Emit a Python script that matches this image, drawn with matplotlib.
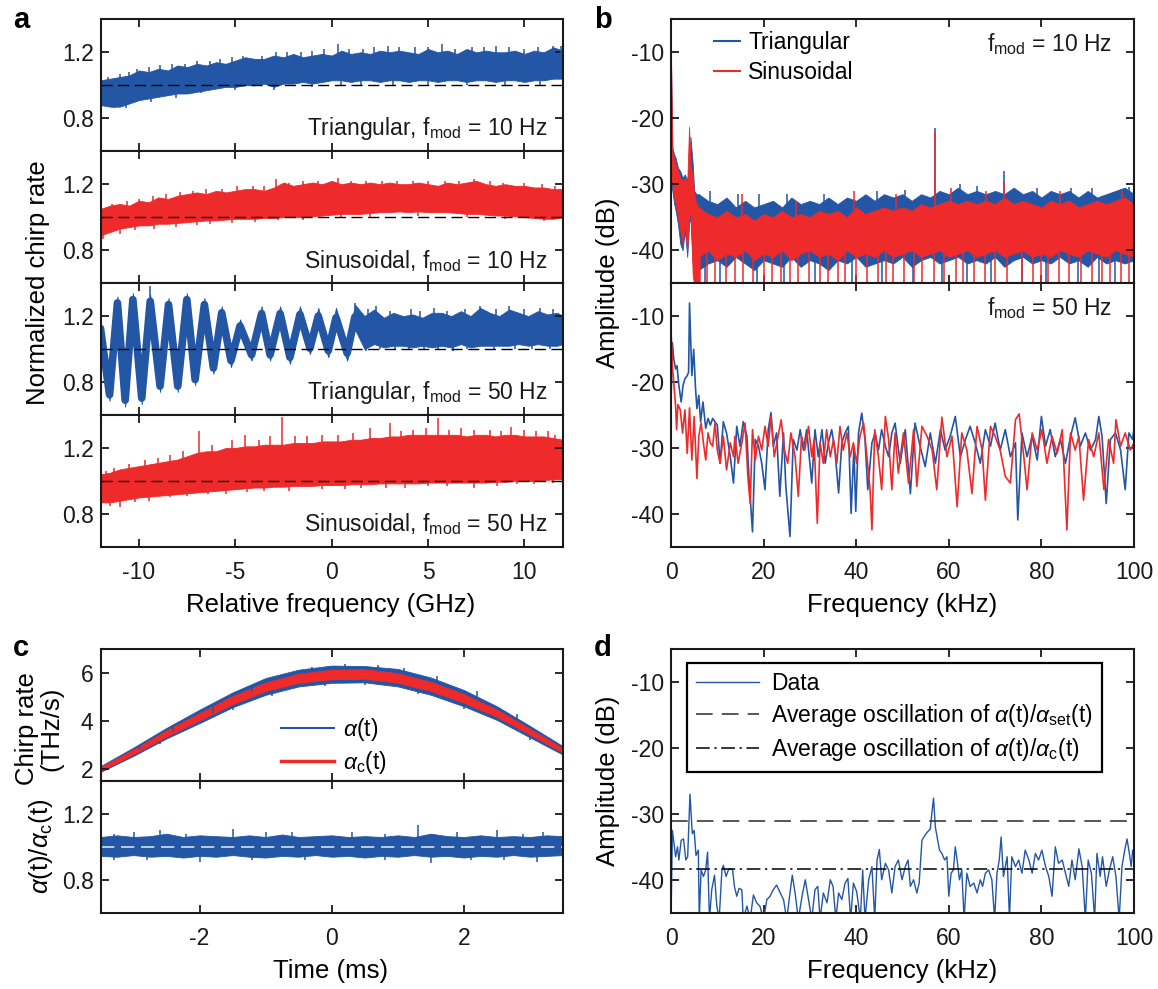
import numpy as np
import matplotlib
matplotlib.use('Agg')
import matplotlib.pyplot as plt
from matplotlib.lines import Line2D

plt.rcParams['font.family'] = ['Liberation Sans', 'DejaVu Sans']
plt.rcParams['mathtext.fontset'] = 'custom'
plt.rcParams['mathtext.rm'] = 'Liberation Sans'
plt.rcParams['mathtext.it'] = 'Liberation Sans:italic'
plt.rcParams['axes.unicode_minus'] = False

BLUE = '#2356a5'
RED = '#ee2a2a'

# ---------------- panel a : normalized chirp rate bands ----------------
a_x = np.arange(-12, 12.01, 0.5)
a1_hi = [1.03, 1.04, 1.05, 1.06, 1.09, 1.08, 1.10, 1.09, 1.12, 1.11,
         1.13, 1.12, 1.14, 1.13, 1.15, 1.17, 1.16, 1.16, 1.18, 1.17,
         1.19, 1.17, 1.18, 1.19, 1.18, 1.21, 1.19, 1.20, 1.19, 1.21,
         1.20, 1.21, 1.20, 1.19, 1.22, 1.20, 1.21, 1.19, 1.22, 1.20,
         1.21, 1.20, 1.20, 1.21, 1.19, 1.21, 1.20, 1.23, 1.21]
a1_lo = [0.88, 0.87, 0.87, 0.89, 0.91, 0.92, 0.93, 0.94, 0.95, 0.95,
         0.96, 0.97, 0.98, 0.99, 0.99, 1.00, 1.00, 1.01, 0.99, 1.01,
         1.01, 1.02, 1.01, 1.02, 1.03, 1.03, 1.02, 1.03, 1.03, 1.02,
         1.03, 1.03, 1.02, 1.03, 1.03, 1.02, 1.03, 1.03, 1.02, 1.03,
         1.03, 1.02, 1.03, 1.03, 1.02, 1.03, 1.03, 1.04, 1.04]
a1_up_x = [-11.6, -11.0, -10.5, -10.1, -9.5, -8.9, -8.3, -7.6, -7.0, -6.3, -5.8, -5.2, -4.6, -3.6,
           -2.9, -2.3, -1.6, -1.0, -0.4, 0.3, 0.9, 1.6, 2.2, 2.9, 3.5, 4.3, 5.0, 5.7, 6.4, 7.3,
           7.9, 8.5, 9.2, 10.0, 10.7, 11.5, 11.9]
a1_up_y = [1.05, 1.07, 1.08, 1.10, 1.11, 1.12, 1.13, 1.13, 1.15, 1.15, 1.16, 1.17, 1.18, 1.18,
           1.20, 1.20, 1.20, 1.21, 1.22, 1.25, 1.22, 1.22, 1.23, 1.24, 1.23, 1.23, 1.23, 1.25, 1.22, 1.23,
           1.23, 1.24, 1.23, 1.22, 1.23, 1.24, 1.24]
a1_dn_x = [-11.3, -10.7, -9.4, -8.1, -6.8, -5.0, -3.0, -1.0, 0.5, 1.5, 3.2, 5.0, 7.0, 9.0, 10.8]
a1_dn_y = [0.86, 0.86, 0.90, 0.92, 0.95, 0.97, 0.97, 0.99, 1.0, 1.00, 1.0, 1.00, 1.0, 1.00, 1.0]

a2_hi = [1.05, 1.07, 1.08, 1.07, 1.10, 1.09, 1.12, 1.11, 1.13, 1.14,
         1.15, 1.14, 1.16, 1.15, 1.16, 1.17, 1.17, 1.16, 1.18, 1.21,
         1.19, 1.20, 1.21, 1.20, 1.22, 1.20, 1.21, 1.20, 1.21, 1.20,
         1.21, 1.20, 1.20, 1.21, 1.20, 1.19, 1.21, 1.20, 1.21, 1.22,
         1.20, 1.19, 1.20, 1.19, 1.19, 1.18, 1.18, 1.17, 1.17]
a2_lo = [0.89, 0.91, 0.93, 0.94, 0.95, 0.95, 0.96, 0.96, 0.965, 0.97,
         0.975, 0.98, 0.98, 0.985, 0.99, 0.99, 0.99, 0.995, 0.995, 1.0,
         1.0, 1.0, 1.005, 1.01, 1.015, 1.02, 1.02, 1.02, 1.025, 1.03,
         1.03, 1.035, 1.03, 1.035, 1.03, 1.03, 1.03, 1.025, 1.02, 1.02,
         1.015, 1.01, 1.01, 1.005, 1.0, 0.995, 0.99, 0.99, 1.0]
a2_up_x = [-11.4, -10.6, -10.0, -9.3, -8.6, -7.9, -7.2, -6.5, -5.7, -4.9, -4.1, -3.5, -2.9, -2.2,
           -1.5, -0.7, 0.3, 1.0, 1.8, 2.6, 3.4, 4.2, 5.0, 5.9, 6.6, 7.4, 8.2, 8.9, 10.0, 10.9, 11.6]
a2_up_y = [1.08, 1.10, 1.11, 1.13, 1.14, 1.15, 1.16, 1.17, 1.17, 1.19, 1.19, 1.19, 1.23, 1.21,
           1.22, 1.22, 1.24, 1.22, 1.22, 1.22, 1.22, 1.22, 1.22, 1.22, 1.22, 1.23, 1.22, 1.21, 1.21, 1.2, 1.19]
a2_dn_x = [-11.85, -11.0, -10.2, -9.2, -8.1, -7.0, -6.3, -5.2, -4.0, -2.8, -1.5, 0.5, 2.0, 4.5, 7.0, 9.0, 11.0]
a2_dn_y = [0.87, 0.9, 0.92, 0.93, 0.94, 0.955, 0.96, 0.965, 0.97, 0.98, 0.985, 0.995, 1.0, 1.01, 1.0, 0.99, 0.975]

# triangular 50 Hz: oscillating band, read at its crests and troughs
a3_x = [-12, -11.53, -11.12, -10.72, -10.32, -9.86, -9.42, -8.91, -8.47, -7.99,
        -7.52, -7.09, -6.61, -6.14, -5.71, -5.23, -4.76, -4.16, -3.64, -3.2,
        -2.68, -2.17, -1.65, -1.13, -0.7, -0.18, 0.22, 0.8, 1.2, 1.7,
        2.2, 2.7, 3.2, 3.7, 4.2, 4.7, 5.2, 5.7, 6.2, 6.7,
        7.2, 7.7, 8.2, 8.7, 9.2, 9.7, 10.2, 10.7, 11.2, 11.7, 12]
a3_hi = [1.17, 0.76, 1.32, 0.73, 1.34, 0.74, 1.33, 0.81, 1.31, 0.81,
         1.34, 0.85, 1.31, 0.92, 1.26, 0.97, 1.18, 1.0, 1.26, 1.0,
         1.26, 0.99, 1.26, 1.04, 1.25, 1.03, 1.25, 1.02, 1.27, 1.2,
         1.24, 1.19, 1.22, 1.2, 1.21, 1.19, 1.22, 1.22, 1.2, 1.23,
         1.2, 1.25, 1.22, 1.2, 1.24, 1.22, 1.2, 1.23, 1.21, 1.22, 1.2]
a3_lo = [1.08, 0.685, 1.24, 0.65, 1.26, 0.665, 1.25, 0.74, 1.23, 0.74,
         1.26, 0.78, 1.23, 0.85, 1.18, 0.89, 1.10, 0.93, 1.17, 0.93,
         1.17, 0.91, 1.16, 0.97, 1.15, 0.95, 1.13, 0.93, 1.12, 1.0,
         1.03, 1.01, 1.02, 1.02, 1.01, 1.02, 1.01, 1.02, 1.01, 1.03,
         1.01, 1.02, 1.02, 1.02, 1.02, 1.03, 1.02, 1.03, 1.02, 1.02, 1.03]
a3_up_x = [-9.42, 1.2, 1.9, 2.3, 3.0, 4.1, 4.6, 5.3, 6.0, 6.9, 7.7, 8.5, 9.2, 10.0, 10.8, 11.5]
a3_up_y = [1.38, 1.28, 1.24, 1.26, 1.23, 1.24, 1.23, 1.25, 1.23, 1.24, 1.26, 1.24, 1.26, 1.24, 1.25, 1.24]
a3_dn_x = [1.8, 2.5, 3.3, 4.0, 4.8, 5.5, 6.3, 7.0, 8.4, 9.5, 10.4, 11.3]
a3_dn_y = [0.99, 1.0, 1.0, 1.0, 1.0, 1.0, 0.99, 1.0, 1.0, 1.0, 1.0, 1.0]

a4_hi = [1.04, 1.05, 1.07, 1.08, 1.09, 1.10, 1.11, 1.12, 1.13, 1.15,
         1.17, 1.18, 1.18, 1.20, 1.20, 1.21, 1.21, 1.22, 1.22, 1.22,
         1.23, 1.23, 1.23, 1.24, 1.24, 1.24, 1.25, 1.25, 1.26, 1.26,
         1.27, 1.27, 1.28, 1.28, 1.28, 1.28, 1.28, 1.28, 1.27, 1.28,
         1.28, 1.27, 1.28, 1.28, 1.27, 1.27, 1.27, 1.26, 1.25]
a4_lo = [0.87, 0.87, 0.88, 0.89, 0.90, 0.905, 0.91, 0.915, 0.92, 0.925,
         0.93, 0.935, 0.94, 0.945, 0.95, 0.955, 0.96, 0.96, 0.965, 0.965,
         0.97, 0.97, 0.97, 0.975, 0.975, 0.975, 0.98, 0.98, 0.98, 0.985,
         0.985, 0.985, 0.985, 0.985, 0.99, 0.99, 0.99, 0.99, 0.99, 0.99,
         0.99, 0.995, 0.995, 1.0, 1.0, 1.0, 1.005, 1.01, 1.01]
a4_up_x = [-11.7, -11.3, -10.5, -9.7, -9.0, -8.4, -7.7, -6.9, -6.2, -5.2, -4.5, -3.8, -3.2, -2.6,
           -1.9, -1.3, -0.5, 0.3, 1.1, 2.0, 3.0, 3.6, 4.2, 4.9, 5.5, 6.1, 6.7, 7.4, 8.2, 8.8,
           9.3, 10.0, 10.6, 11.2, 11.6]
a4_up_y = [1.06, 1.08, 1.10, 1.13, 1.14, 1.16, 1.18, 1.30, 1.22, 1.25, 1.28, 1.25, 1.27, 1.39,
           1.27, 1.27, 1.28, 1.28, 1.29, 1.32, 1.35, 1.30, 1.31, 1.32, 1.38, 1.31, 1.32, 1.31, 1.31, 1.30,
           1.33, 1.31, 1.30, 1.30, 1.28]
a4_dn_x = [-11.5, -11.0, -10.2, -9.5, -8.4, -7.5, -6.4, -5.5, -4.4, -3.5, -2.2, -0.5, 0.7, 1.5,
           2.8, 3.8, 5.0, 6.0, 7.4, 8.6, 9.6, 10.5, 11.5]
a4_dn_y = [0.85, 0.84, 0.87, 0.88, 0.9, 0.91, 0.92, 0.92, 0.93, 0.94, 0.94, 0.95, 0.95, 0.96,
           0.96, 0.96, 0.97, 0.97, 0.96, 0.97, 0.98, 0.98, 0.99]

a_colors = [BLUE, RED, BLUE, RED]
a_texts = ['Triangular, f$_{\\rm mod}$ = 10 Hz', 'Sinusoidal, f$_{\\rm mod}$ = 10 Hz',
           'Triangular, f$_{\\rm mod}$ = 50 Hz', 'Sinusoidal, f$_{\\rm mod}$ = 50 Hz']

# ---------------- panel b : spectra ----------------
# f_mod = 10 Hz, low-frequency part
b1_low_x = [0, 0.3, 0.7, 1.0, 1.5, 2.0, 2.5, 3.0, 3.5, 3.9, 4.2, 4.7, 5.0, 5.5, 6.0]
b1_tri_low_hi = [-11.5, -24.5, -25.5, -26, -27.5, -28, -29, -28.5, -29.5, -27, -22.8, -27, -31, -31.5, -31.5]
b1_tri_low_lo = [-30, -31, -33, -34, -36, -39, -40, -37, -41, -36, -35, -42, -44, -43, -44]
b1_sin_low_hi = [-10.5, -25, -26, -27, -28, -29, -29.5, -29, -30, -21.3, -27, -29, -31.5, -33, -33.5]
b1_sin_low_lo = [-29, -30, -32, -33, -35, -37, -39, -36, -40, -35, -34, -44, -45, -46, -46]
# f_mod = 10 Hz, noise floor band (6..100 kHz, every 2 kHz)
b1_x = np.arange(6, 101, 2)
b1_tri_hi = [-31.5, -32.5, -33, -32, -33.5, -32.5, -33.5, -33, -32.5, -33.5,
             -32, -33, -32.5, -33, -32, -33, -32, -32.5, -31.5, -32.5,
             -31.5, -32, -31.5, -32.5, -31.5, -32, -31, -31.5, -30.5, -31.5,
             -31, -31.5, -31, -31.5, -30.5, -31.5, -31, -32, -31, -31.5,
             -31, -32, -31, -32, -31.5, -31, -30.5, -31.5]
b1_tri_lo = [-43, -42, -41.5, -42.5, -41, -42, -43, -41.5, -42, -42.5,
             -41, -42.5, -41.5, -42, -43, -41.5, -42, -41, -42.5, -42,
             -41.5, -42, -41, -42.5, -41.5, -41, -42, -41.5, -41, -42,
             -41.5, -42, -41, -42.5, -41.5, -41, -42, -41.5, -42, -41,
             -42, -41.5, -42.5, -41, -42, -41.5, -42, -41.5]
b1_sin_hi = [-33.5, -34.5, -35, -34, -35, -34.5, -35.5, -34.5, -35, -34,
             -35, -34.5, -35, -34, -34.5, -34, -35, -33.5, -34.5, -34,
             -33.5, -34, -33.5, -34, -33, -33.5, -33, -32.5, -33, -32.5,
             -33, -32.5, -33, -32, -33, -32.5, -33, -33.5, -32.5, -33,
             -32.5, -33.5, -33, -32.5, -33, -32.5, -32, -33]
b1_sin_lo = [-41, -40, -41.5, -40.5, -41, -40, -41.5, -40.5, -41, -40,
             -41.5, -40.5, -40, -41, -40.5, -41.5, -40, -41, -40.5, -41,
             -40, -41, -40.5, -40, -41, -40.5, -40, -41, -40.5, -40,
             -41, -40.5, -40, -41, -40.5, -40, -41, -40.5, -41, -40,
             -40.5, -41, -40, -40.5, -41, -40, -40.5, -41]
b1_tri_up_x = [8.5, 14.5, 19.0, 25.0, 33.0, 44.5, 50.5, 57.0, 62.5, 66.0, 72.0, 79.0, 86.5, 91.0, 99.0]
b1_tri_up_y = [-31.0, -31.5, -31.5, -31.5, -31.5, -31.0, -30.8, -21.5, -30.0, -30.3, -28.0, -30.5, -30.5, -30.5, -30.4]
b1_sin_up_x = [15.3, 27.0, 39.6, 48.5, 57.0, 60.5, 68.0, 72.0, 84.0, 97.5]
b1_sin_up_y = [-31.5, -32.5, -31.0, -31.5, -22.0, -30.5, -31.0, -29.5, -31.0, -31.0]
b1_tri_drop_x = [7.4, 10.5, 18.5, 24.5, 31.0, 39.2, 45.6, 52.3, 58.5, 64.0, 69.2, 75.8, 81.0, 88.0, 92.5, 96.0]
b1_sin_drop_x = [6.2, 7.8, 9.4, 11.8, 13.8, 15.5, 17.7, 20.1, 21.8, 23.7, 25.7, 27.5, 29.7, 32.1, 34.0,
                 36.0, 37.6, 40.0, 42.4, 44.8, 46.5, 48.0, 50.4, 52.5, 54.3, 56.7, 59.0, 61.5, 63.1,
                 65.5, 67.9, 70.0, 72.6, 75.8, 78.2, 80.0, 81.4, 83.8, 86.0, 88.5, 90.9, 93.0, 94.9, 97.3, 98.9]

# f_mod = 50 Hz
b2_tri_x = [0.0, 0.3, 0.6, 1.0, 1.3, 1.7, 2.2, 2.6, 3.0, 3.5,
            3.8, 4.0, 4.5, 4.9, 5.3, 5.6, 6.0, 6.4, 6.9, 7.5,
            8.0, 8.5, 9.0, 9.5, 10.0, 10.6, 11.3, 12.0, 12.8, 13.5,
            14.2, 14.9, 15.6, 16.4, 16.9, 17.6, 18.2, 18.9, 19.6, 20.3,
            21.0, 21.6, 22.1, 22.8, 23.5, 24.3, 24.8, 25.7, 26.4, 27.2,
            27.9, 28.6, 29.3, 30.4, 31.1, 31.8, 32.6, 33.3, 34.0, 34.7,
            35.4, 36.2, 36.9, 37.6, 38.3, 38.9, 39.5, 39.9, 40.5, 41.2,
            41.9, 42.5, 43.4, 44.1, 44.8, 45.5, 46.3, 47.0, 47.7, 48.4,
            49.5, 50.6, 51.7, 52.7, 53.8, 54.9, 56.0, 57.1, 58.2, 59.2,
            60.3, 61.4, 62.5, 63.6, 64.6, 65.7, 66.8, 67.9, 69.0, 70.0,
            71.1, 72.2, 73.3, 74.4, 74.9, 75.8, 76.9, 78.0, 79.1, 80.0,
            80.9, 81.9, 83.0, 84.1, 85.2, 86.3, 87.3, 88.4, 89.5, 90.6,
            91.7, 92.4, 93.1, 94.0, 94.9, 96.0, 97.1, 98.1, 98.9, 99.7,
            100.0]
b2_tri_y = [-23, -14, -16.5, -18, -17.5, -20.5, -23, -20.5, -19.5, -19,
            -18.5, -8, -19, -15, -21, -24, -22, -26, -23, -27,
            -25.5, -26.5, -25.5, -26, -26.5, -32.3, -26, -27.7, -31.3, -35.3,
            -26.7, -29.7, -26, -28.2, -35.3, -42.7, -28.7, -29.7, -32.3, -36.3,
            -27.2, -24.6, -29.7, -27.7, -37.3, -27.7, -35.8, -43.4, -28.7, -30.3,
            -27.2, -30.3, -27.2, -35.3, -27.2, -31.3, -27.2, -32.3, -29.2, -27.2,
            -30.3, -36.8, -29.2, -27.7, -26.7, -39.9, -30, -39.6, -27.7, -24.7,
            -28.7, -36.3, -29.2, -27.7, -30.3, -27.2, -29.7, -31.3, -27.7, -26.2,
            -32.3, -27.2, -36.9, -26.2, -29.7, -32.8, -27.7, -32.3, -27.2, -30.3,
            -28.2, -25.2, -31.3, -28.7, -26.7, -29.2, -32.3, -27.2, -29.7, -26.2,
            -30.3, -27.2, -31.3, -29.2, -40.9, -27.7, -31.3, -28.2, -31.8, -25.2,
            -29.7, -27.2, -31.3, -28.7, -32.3, -28.2, -25.4, -29.7, -27.7, -30.3,
            -28.7, -25.2, -28.2, -38.4, -28.7, -27.7, -30.3, -36.3, -27.7, -28.7,
            -27]
b2_sin_x = [0.0, 0.3, 0.6, 1.0, 1.2, 1.5, 2.0, 2.5, 3.0, 3.5,
            4.0, 4.5, 5.0, 5.6, 6.0, 6.5, 7.0, 7.5, 8.0, 8.5,
            9.0, 9.5, 10.0, 10.6, 11.3, 12.0, 12.8, 13.5, 13.8, 14.5,
            15.3, 16.0, 16.6, 17.1, 17.6, 18.2, 18.9, 19.6, 20.3, 21.0,
            21.6, 22.3, 23.0, 23.8, 24.5, 25.2, 25.9, 26.8, 27.5, 28.2,
            28.9, 29.7, 30.4, 30.9, 31.6, 32.2, 32.9, 33.6, 34.4, 35.1,
            35.8, 36.5, 37.2, 38.0, 38.7, 39.4, 40.1, 40.8, 41.6, 42.3,
            43.0, 43.4, 44.0, 44.8, 45.5, 46.3, 47.0, 47.7, 48.4, 49.1,
            50.2, 51.3, 52.4, 53.1, 54.2, 55.3, 56.4, 57.4, 58.5, 59.6,
            60.7, 61.8, 62.8, 63.9, 65.0, 66.1, 67.2, 67.9, 69.0, 70.0,
            71.1, 72.2, 73.3, 74.4, 75.2, 76.2, 76.9, 78.0, 79.1, 80.1,
            81.2, 82.3, 83.4, 84.5, 85.5, 86.3, 87.3, 88.1, 89.1, 90.2,
            91.3, 92.4, 93.5, 94.5, 95.6, 96.1, 97.1, 98.1, 99.2, 100.0]
b2_sin_y = [-12, -17.6, -20.1, -23.7, -27.2, -23.4, -24.2, -27.7, -24.2, -30.8,
            -23.9, -31.8, -25.2, -34.6, -28.2, -26.2, -29.2, -31.8, -27.7, -29.2,
            -29.7, -26.2, -30.3, -32.3, -28.2, -33.3, -29.2, -31.3, -28.2, -32.3,
            -29.2, -26.2, -34.3, -38.4, -27.2, -31.8, -28.2, -30.3, -26.7, -29.7,
            -25.2, -31.3, -28.7, -25.7, -30.3, -32.3, -27.7, -31.3, -37.3, -28.2,
            -30.3, -26.7, -31.3, -28.7, -41.4, -29.2, -32.3, -27.2, -31.3, -28.7,
            -32.3, -26.7, -30.3, -27.7, -31.3, -29.2, -32.3, -28.2, -26.2, -31.3,
            -36.3, -42.4, -27.2, -31.3, -36.3, -25.2, -28.7, -36.3, -27.7, -33.8,
            -27.7, -35.3, -27.2, -35.8, -26.7, -28.2, -30.3, -36.3, -25.3, -31.3,
            -28.2, -38.9, -27.7, -30.3, -36.9, -26.7, -30.3, -37.9, -26.7, -28.2,
            -30.3, -34.3, -35.3, -25.7, -24.8, -31.3, -36.3, -27.7, -30.3, -27.2,
            -32.3, -28.2, -30.8, -27.2, -42.4, -27.7, -30.3, -28.2, -37.9, -28.7,
            -31.3, -27.7, -36.3, -28.7, -32.3, -25.7, -29.7, -27.7, -30.3, -29.2]

# ---------------- panel c : chirp rate vs time ----------------
c_t = np.arange(-3.5, 3.51, 0.5)
c_blue_hi = [2.12, 2.9, 3.72, 4.48, 5.2, 5.8, 6.15, 6.32, 6.3, 6.18, 5.82, 5.3, 4.62, 3.8, 2.95]
c_blue_lo = [1.88, 2.55, 3.28, 3.92, 4.58, 5.1, 5.45, 5.6, 5.62, 5.45, 5.1, 4.62, 4.05, 3.32, 2.6]
c_red_hi = [2.08, 2.82, 3.62, 4.34, 5.05, 5.62, 5.98, 6.15, 6.17, 6.0, 5.64, 5.13, 4.48, 3.68, 2.86]
c_red_lo = [1.92, 2.62, 3.36, 4.04, 4.71, 5.26, 5.6, 5.75, 5.77, 5.6, 5.26, 4.77, 4.18, 3.44, 2.68]
c_blue_up_x = [-2.9, -2.4, -1.8, -1.2, -0.6, -0.3, 0.2, 0.7, 1.1, 1.6, 2.2, 2.8, 3.3]
c_blue_up_y = [2.85, 3.55, 4.35, 5.2, 5.95, 6.25, 6.4, 6.35, 6.2, 5.9, 5.25, 4.3, 3.3]
c_blue_dn_x = [-2.6, -1.5, -0.9, -0.1, 0.5, 1.3, 2.0, 3.0]
c_blue_dn_y = [3.05, 4.45, 5.05, 5.45, 5.5, 5.15, 4.5, 3.2]

c_rt = np.arange(-3.5, 3.51, 0.25)
c_ratio_hi = [1.06, 1.07, 1.06, 1.065, 1.08, 1.06, 1.07, 1.065, 1.06, 1.07,
              1.06, 1.075, 1.06, 1.065, 1.07, 1.06, 1.065, 1.06, 1.07, 1.06,
              1.08, 1.065, 1.06, 1.07, 1.06, 1.065, 1.06, 1.07, 1.065]
c_ratio_lo = [0.945, 0.94, 0.95, 0.94, 0.945, 0.935, 0.945, 0.94, 0.95, 0.94,
              0.935, 0.945, 0.94, 0.95, 0.94, 0.945, 0.935, 0.945, 0.94, 0.95,
              0.94, 0.945, 0.935, 0.945, 0.94, 0.95, 0.94, 0.945, 0.95]
c_up_x = [-3.3, -3.0, -2.6, -2.2, -1.5, -1.0, -0.6, 0.3, 0.8, 1.3, 1.9, 2.5, 2.9, 3.2]
c_up_y = [1.08, 1.09, 1.10, 1.08, 1.11, 1.09, 1.09, 1.09, 1.08, 1.13, 1.09, 1.10, 1.08, 1.09]
c_dn_x = [-3.3, -2.8, -2.0, -1.2, -0.4, 0.8, 1.5, 2.1, 2.6, 3.1]
c_dn_y = [0.92, 0.92, 0.91, 0.92, 0.92, 0.92, 0.90, 0.92, 0.92, 0.91]

# ---------------- panel d : spectrum of alpha/alpha_c ----------------
d_x = [0.0, 0.3, 1.0, 1.4, 1.7, 2.2, 2.7, 3.2, 3.6, 4.1,
       4.6, 5.0, 5.4, 5.9, 6.1, 6.5, 7.0, 7.5, 7.9, 8.3,
       8.8, 9.4, 9.9, 10.4, 11.0, 11.3, 11.9, 12.4, 12.8, 13.3,
       13.7, 14.2, 14.7, 15.3, 15.6, 16.4, 17.1, 17.8, 18.5, 19.2,
       20.0, 20.7, 21.4, 22.1, 22.8, 23.6, 24.3, 25.0, 25.7, 26.2,
       26.8, 27.5, 28.3, 29.0, 29.7, 30.4, 31.1, 31.7, 32.2, 32.9,
       33.7, 34.4, 35.0, 35.6, 36.2, 36.9, 37.6, 38.2, 38.8, 39.4,
       40.1, 40.9, 41.4, 41.9, 42.7, 43.4, 44.0, 44.5, 45.0, 45.5,
       46.3, 47.0, 47.7, 48.4, 49.1, 49.9, 50.6, 51.2, 51.7, 52.4,
       53.1, 53.6, 54.2, 54.8, 55.3, 56.0, 56.4, 56.7, 57.1, 57.6,
       58.0, 58.5, 59.1, 59.6, 60.0, 60.5, 61.0, 61.4, 61.8, 62.3,
       62.8, 63.3, 63.9, 64.6, 65.4, 66.1, 66.8, 67.3, 67.9, 68.6,
       69.3, 69.9, 70.4, 70.9, 71.3, 71.8, 72.6, 73.1, 73.6, 74.4,
       75.1, 75.8, 76.5, 77.3, 78.0, 78.7, 79.4, 80.1, 80.9, 81.6,
       82.3, 83.0, 83.7, 84.5, 85.2, 85.9, 86.6, 87.3, 88.1, 88.8,
       89.5, 90.1, 90.8, 91.5, 92.0, 92.7, 93.2, 94.0, 94.7, 95.4,
       96.1, 96.8, 97.4, 98.0, 98.5, 99.0, 99.4, 99.7, 100.0]
d_y = [-46, -32.5, -36.5, -35, -37, -34, -33.8, -37, -36.5, -27,
       -33, -32.5, -36.3, -35.5, -46, -38.5, -39.5, -38.5, -35.8, -46,
       -41.5, -39.3, -44, -46, -38.5, -37.8, -39.5, -38.5, -38.3, -38.5,
       -41, -42.5, -41.3, -41.5, -46, -44, -46, -42.3, -43.5, -44,
       -46, -43, -42.5, -41.5, -40.8, -42, -43, -46, -42, -39.3,
       -42, -46, -42.5, -40, -43, -46, -41.5, -41, -46, -42,
       -43.5, -40, -41, -46, -42, -43, -40.5, -39.8, -46, -40.5,
       -41.8, -46, -38.5, -46, -40, -38, -46, -37, -35.4, -40,
       -37.5, -38.5, -42, -38, -37, -40, -38, -37, -41, -40,
       -42, -40.5, -34, -33.3, -32.8, -32.3, -29.5, -27.6, -32, -34,
       -35.5, -36, -37, -36.5, -42.5, -39, -38.5, -35, -37, -40,
       -38.5, -46, -39, -41, -40.5, -42, -40, -41, -39, -38.5,
       -40, -46, -39, -37, -33.5, -39.5, -36.5, -46, -36.5, -38,
       -37, -39, -35.5, -37, -39, -36, -37, -35.5, -38, -39.5,
       -42.5, -35, -37.5, -37, -39, -41, -37, -40, -35.3, -38,
       -46, -37, -39, -46, -36, -39.5, -36.5, -41, -38.5, -36.5,
       -39.5, -46, -38, -35.5, -33.8, -36, -38, -35.5, -36]
d_avg_set = -31.1
d_avg_c = -38.35

# ---------------- figure ----------------
W, H = 1158, 989
fig = plt.figure(figsize=(W / 100, H / 100), dpi=100)


def rect(l, t, r, b):
    return [l / W, 1 - b / H, (r - l) / W, (b - t) / H]


def style(ax, xlim, ylim, xticks, yticks, xlabels=True):
    ax.set_xlim(xlim)
    ax.set_ylim(ylim)
    ax.set_xticks(xticks)
    ax.set_yticks(yticks)
    ax.tick_params(direction='in', top=True, right=True, length=6, width=1.3,
                   labelsize=16.5, colors='#1a1a1a')
    ax.tick_params(axis='x', pad=10)
    ax.tick_params(axis='y', pad=5)
    if not xlabels:
        ax.tick_params(labelbottom=False)
    for s in ax.spines.values():
        s.set_linewidth(1.5)
        s.set_color('#1a1a1a')


def band(ax, x, lo, hi, color):
    ax.fill_between(x, lo, hi, color=color, lw=0.6, edgecolor=color)


def spikes_up(ax, x, hi, sx, sy, color, off):
    base = np.interp(sx, x, hi) - off
    ax.vlines(sx, base, sy, color=color, lw=1.1)


def spikes_dn(ax, x, lo, sx, sy, color, off):
    base = np.interp(sx, x, lo) + off
    ax.vlines(sx, sy, base, color=color, lw=1.1)


a_data = [(a1_hi, a1_lo, a1_up_x, a1_up_y, a1_dn_x, a1_dn_y),
          (a2_hi, a2_lo, a2_up_x, a2_up_y, a2_dn_x, a2_dn_y),
          None,
          (a4_hi, a4_lo, a4_up_x, a4_up_y, a4_dn_x, a4_dn_y)]
row_h = 131.9
for i in range(4):
    top = 19.3 + i * row_h
    ax = fig.add_axes(rect(100.5, top, 563, top + row_h))
    c = a_colors[i]
    if i == 2:
        band(ax, a3_x, a3_lo, a3_hi, c)
        # the oscillating trace is a thick noisy line: draw its centre thick
        n_osc = 30
        mid = (np.array(a3_hi[:n_osc]) + np.array(a3_lo[:n_osc])) / 2
        ax.plot(a3_x[:n_osc], mid, color=c, lw=5.5, solid_joinstyle='round', solid_capstyle='round')
        spikes_up(ax, a3_x, a3_hi, a3_up_x, a3_up_y, c, 0.02)
        spikes_dn(ax, a3_x, a3_lo, a3_dn_x, a3_dn_y, c, 0.02)
    else:
        hi, lo, ux, uy, dx, dy = a_data[i]
        band(ax, a_x, lo, hi, c)
        spikes_up(ax, a_x, hi, ux, uy, c, 0.02)
        spikes_dn(ax, a_x, lo, dx, dy, c, 0.02)
    ax.axhline(1.0, color='black', lw=1.0, ls=(0, (8, 4)))
    style(ax, (-12, 12), (0.6, 1.4), [-10, -5, 0, 5, 10], [0.8, 1.2], xlabels=(i == 3))
    ax.text(0.967, 0.17, a_texts[i], transform=ax.transAxes, ha='right', va='center',
            fontsize=16.5, color='#1a1a1a')

# panel b top
axb1 = fig.add_axes(rect(671, 19.3, 1134, 283.3))
band(axb1, b1_low_x, b1_tri_low_lo, b1_tri_low_hi, BLUE)
band(axb1, b1_x, b1_tri_lo, b1_tri_hi, BLUE)
spikes_up(axb1, b1_x, b1_tri_hi, b1_tri_up_x, b1_tri_up_y, BLUE, 0.5)
axb1.vlines(b1_tri_drop_x, -46, np.interp(b1_tri_drop_x, b1_x, b1_tri_lo) + 0.5, color=BLUE, lw=1.1)
band(axb1, b1_low_x, b1_sin_low_lo, b1_sin_low_hi, RED)
band(axb1, b1_x, b1_sin_lo, b1_sin_hi, RED)
spikes_up(axb1, b1_x, b1_sin_hi, b1_sin_up_x, b1_sin_up_y, RED, 0.5)
axb1.vlines(b1_sin_drop_x, -46, np.interp(b1_sin_drop_x, b1_x, b1_sin_lo) + 0.5, color=RED, lw=1.1)
style(axb1, (0, 100), (-45, -5), [0, 20, 40, 60, 80, 100], [-40, -30, -20, -10], xlabels=False)
axb1.text(0.952, 0.906, 'f$_{\\rm mod}$ = 10 Hz', transform=axb1.transAxes, ha='right', va='center',
          fontsize=16.5, color='#1a1a1a')
handles = [Line2D([], [], color=BLUE, lw=1.5), Line2D([], [], color=RED, lw=1.5)]
axb1.legend(handles, ['Triangular', 'Sinusoidal'], loc='upper left', bbox_to_anchor=(0.093, 0.955),
            frameon=False, fontsize=16.5, handlelength=1.15, handletextpad=0.35,
            labelspacing=0.3, borderpad=0, borderaxespad=0)

# panel b bottom
axb2 = fig.add_axes(rect(671, 283.3, 1134, 547))
axb2.plot(b2_tri_x, b2_tri_y, color=BLUE, lw=1.2)
axb2.plot(b2_sin_x, b2_sin_y, color=RED, lw=1.2)
style(axb2, (0, 100), (-45, -5), [0, 20, 40, 60, 80, 100], [-40, -30, -20, -10])
axb2.text(0.952, 0.906, 'f$_{\\rm mod}$ = 50 Hz', transform=axb2.transAxes, ha='right', va='center',
          fontsize=16.5, color='#1a1a1a')

# panel c
axc1 = fig.add_axes(rect(100.5, 649.3, 563, 781))
band(axc1, c_t, c_blue_lo, c_blue_hi, BLUE)
spikes_up(axc1, c_t, c_blue_hi, c_blue_up_x, c_blue_up_y, BLUE, 0.05)
spikes_dn(axc1, c_t, c_blue_lo, c_blue_dn_x, c_blue_dn_y, BLUE, 0.05)
band(axc1, c_t, c_red_lo, c_red_hi, RED)
style(axc1, (-3.5, 3.5), (1.5, 7), [-2, 0, 2], [2, 4, 6], xlabels=False)
handles = [Line2D([], [], color=BLUE, lw=1.5), Line2D([], [], color=RED, lw=2.5)]
axc1.legend(handles, ['$\\alpha$(t)', '$\\alpha_{\\rm c}$(t)'], loc='upper left',
            bbox_to_anchor=(0.39, 0.49), frameon=False, fontsize=16.5, handlelength=2.3,
            handletextpad=0.4, labelspacing=0.25, borderpad=0, borderaxespad=0)

axc2 = fig.add_axes(rect(100.5, 781, 563, 912.7))
band(axc2, c_rt, c_ratio_lo, c_ratio_hi, BLUE)
spikes_up(axc2, c_rt, c_ratio_hi, c_up_x, c_up_y, BLUE, 0.02)
spikes_dn(axc2, c_rt, c_ratio_lo, c_dn_x, c_dn_y, BLUE, 0.02)
axc2.axhline(1.0, color='#d5ddee', lw=1.2, ls=(0, (8, 4)))
style(axc2, (-3.5, 3.5), (0.6, 1.4), [-2, 0, 2], [0.8, 1.2])

# panel d
axd = fig.add_axes(rect(671, 649.3, 1134, 912.7))
axd.plot(d_x, d_y, color=BLUE, lw=1.0)
axd.axhline(d_avg_set, color='#3a3a3a', lw=1.2, ls=(0, (10, 5.5)))
axd.axhline(d_avg_c, color='black', lw=1.1, ls=(0, (9, 3, 1.5, 3)))
style(axd, (0, 100), (-45, -5), [0, 20, 40, 60, 80, 100], [-40, -30, -20, -10])
handles = [Line2D([], [], color=BLUE, lw=1.0),
           Line2D([], [], color='#3a3a3a', lw=1.2, ls=(0, (10, 5.5))),
           Line2D([], [], color='black', lw=1.1, ls=(0, (9, 3, 1.5, 3)))]
leg = axd.legend(handles, ['Data', 'Average oscillation of $\\alpha$(t)/$\\alpha_{\\rm set}$(t)',
                           'Average oscillation of $\\alpha$(t)/$\\alpha_{\\rm c}$(t)'],
                 loc='upper left', bbox_to_anchor=(0.035, 0.948), fontsize=16.5,
                 handlelength=2.75, handletextpad=0.5, labelspacing=0.3, borderpad=0.4,
                 borderaxespad=0, fancybox=False, framealpha=1)
leg.get_frame().set_edgecolor('black')
leg.get_frame().set_linewidth(1.6)

# labels
fs_lab = 18.5
fig.text(38 / W, 1 - 283 / H, 'Normalized chirp rate', rotation=90, ha='center', va='center', fontsize=fs_lab)
fig.text(608 / W, 1 - 283 / H, 'Amplitude (dB)', rotation=90, ha='center', va='center', fontsize=fs_lab)
fig.text(331 / W, 1 - 605 / H, 'Relative frequency (GHz)', ha='center', va='center', fontsize=fs_lab)
fig.text(902 / W, 1 - 605 / H, 'Frequency (kHz)', ha='center', va='center', fontsize=fs_lab)
fig.text(39 / W, 1 - 729 / H, 'Chirp rate\n(THz/s)', rotation=90, ha='center', va='center',
         fontsize=fs_lab, linespacing=1.05)
fig.text(41 / W, 1 - 846 / H, '$\\alpha$(t)/$\\alpha_{\\rm c}$(t)', rotation=90, ha='center', va='center',
         fontsize=fs_lab)
fig.text(331 / W, 1 - 971 / H, 'Time (ms)', ha='center', va='center', fontsize=fs_lab)
fig.text(608 / W, 1 - 781 / H, 'Amplitude (dB)', rotation=90, ha='center', va='center', fontsize=fs_lab)
fig.text(902 / W, 1 - 971 / H, 'Frequency (kHz)', ha='center', va='center', fontsize=fs_lab)

for lab, x, y in [('a', 21, 20), ('b', 603, 20), ('c', 21, 648), ('d', 603, 648)]:
    fig.text(x / W, 1 - y / H, lab, ha='center', va='center', fontsize=21, fontweight='bold')

fig.savefig('out.png', dpi=100)
